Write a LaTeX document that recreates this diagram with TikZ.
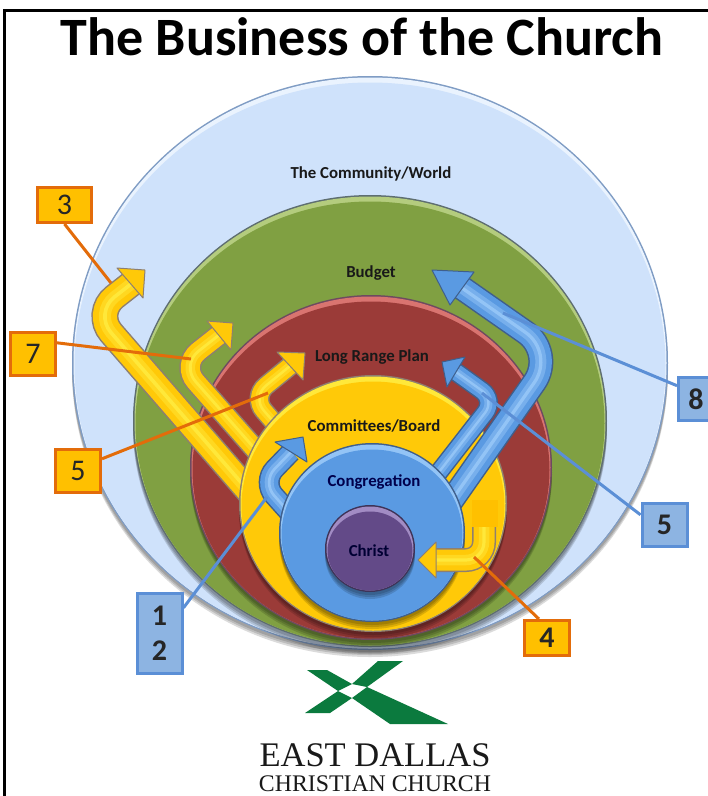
\documentclass[tikz,border=0pt]{standalone}
\usepackage{fontspec}
\setmainfont{Carlito}
\newfontfamily\logofont{Liberation Serif}
\usepackage{tikz}
\usetikzlibrary{positioning}
\definecolor{skyfill}{HTML}{CFE2FB}
\definecolor{skylight}{HTML}{EAF3FE}
\definecolor{skyedge}{HTML}{7F9CC4}
\definecolor{greenfill}{HTML}{80A042}
\definecolor{greenlight}{HTML}{B4CC7E}
\definecolor{greenedge}{HTML}{5E6E70}
\definecolor{redfill}{HTML}{9B3B38}
\definecolor{redlight}{HTML}{D97470}
\definecolor{rededge}{HTML}{6E4A60}
\definecolor{yellowfill}{HTML}{FFC908}
\definecolor{yellowlight}{HTML}{FFE83A}
\definecolor{yellowedge}{HTML}{8E7F70}
\definecolor{bluefill}{HTML}{5A9AE2}
\definecolor{bluelight}{HTML}{93C4F6}
\definecolor{blueedge}{HTML}{3F5F8C}
\definecolor{purplefill}{HTML}{634A88}
\definecolor{purplelight}{HTML}{A28CC4}
\definecolor{purpleedge}{HTML}{3E3358}
\definecolor{boxorange}{HTML}{E36C0A}
\definecolor{boxyellow}{HTML}{FFC000}
\definecolor{boxblue}{HTML}{8DB4E2}
\definecolor{lineblue}{HTML}{5B8FD6}
\definecolor{logogreen}{HTML}{0B7A3E}
\tikzset{yellowbox/.style = {draw=boxorange, fill=boxyellow, line width=3pt, text=black!85,
                             font=\fontsize{30}{35}\selectfont, align=center, inner sep=0,
                             minimum width=45pt, minimum height=43pt}}
\tikzset{bluebox/.style = {yellowbox, draw=lineblue, fill=boxblue, font=\fontsize{30}{35}\selectfont\bfseries}}
\tikzset{orangeline/.style = {draw=boxorange, line width=3pt}}
\tikzset{blueline/.style = {draw=lineblue, line width=3pt}}
\tikzset{disclabel/.style = {font=\fontsize{16.8}{20}\selectfont\bfseries, text=black!90, inner sep=0}}
\newcommand{\disc}[5]{%
  \foreach \s in {7,5,3} {
    \fill [black, opacity=0.14] (#1, #2+\s) circle [x radius=#3, y radius=#4];
  }
  \fill [#5edge] (#1, #2) circle [x radius=#3, y radius=#4];
  \fill [#5light] (#1, #2) circle [x radius=#3-1.5, y radius=#4-1.5];
  \fill [#5fill] (#1, #2+2.5) circle [x radius=#3-2.5, y radius=#4-4];
}
\newcommand{\bentarrow}[4]{%
  \draw [#1edge, line width=#2pt+3pt] #3;
  \draw [#1fill, line width=#2pt] #3;
  \draw [#1fill!50!#1light, line width=0.5*#2pt] #3;
  \draw [#1light, line width=0.15*#2pt] #3;
  \filldraw [draw=#1edge, fill=#1fill, line width=1pt, line join=round] #4 -- cycle;
}

\begin{document}
\begin{tikzpicture}[x=1pt, y=-1pt]
  \useasboundingbox (0, 0) rectangle (708, 796);
  \fill [white] (0, 0) rectangle (708, 796);
  \draw [black, line width=3pt] (4.5, 796) -- (4.5, 10) -- (708, 10);

  \node [font=\fontsize{54}{64}\selectfont\bfseries] (title) at (362, 37) {The Business of the Church};

  \disc{370}{363}{298}{287}{sky}
  \disc{370}{421}{237}{226}{green}
  \disc{371}{467.5}{181}{172.5}{red}

  % arrows behind the committees
  \bentarrow{yellow}{24}{(252, 495) [rounded corners=26pt] -- (94, 313) -- (131, 284)}{(145, 270) -- (117, 268) -- (143, 298)}
  \bentarrow{yellow}{19}{(270, 466) [rounded corners=22pt] -- (181, 365) -- (219, 335)}{(233, 323) -- (207, 321) -- (231, 350)}
  \bentarrow{yellow}{17}{(285, 435) [rounded corners=18pt] -- (252, 397) -- (290, 366)}{(305, 353) -- (277, 352) -- (303, 380)}

  \disc{373}{503.5}{134}{128.5}{yellow}

  % arrows out of the congregation
  \bentarrow{blue}{18}{(305, 530) [rounded corners=18pt] -- (262, 482) -- (291, 452)}{(303, 437) -- (275, 442) -- (307, 462)}
  \bentarrow{blue}{16}{(425, 490) [rounded corners=16pt] -- (495, 400) -- (456, 372)}{(442, 362) -- (465, 357) -- (447, 387)}
  \bentarrow{blue}{22}{(440, 517) [rounded corners=36pt] -- (555, 353) -- (462, 288)}{(432, 270) -- (474, 272) -- (450, 305)}

  \disc{372}{532.5}{93}{89.5}{blue}
  \disc{370}{548.5}{45}{43.5}{purple}

  \bentarrow{yellow}{21}{(484, 527) [rounded corners=18pt] -- (484, 560) -- (436, 560)}{(418, 560) -- (436, 542) -- (436, 578)}
  \fill [boxyellow] (472, 500) rectangle (498, 527);

  \node [disclabel] (world) at (371, 173.5) {The Community/World};
  \node [disclabel] (budget) at (371, 273.5) {Budget};
  \node [disclabel] (plan) at (372, 357.5) {Long Range Plan};
  \node [disclabel] (board) at (374, 426) {Committees/Board};
  \node [disclabel, text=blue!30!black] (congregation) at (374, 482.5) {Congregation};
  \node [disclabel, text=blue!20!black] (christ) at (369, 551) {Christ};

  \node [yellowbox, minimum width=54pt, minimum height=35pt] (boxThree) at (64.5, 205) {3};
  \node [yellowbox] (boxSeven) at (33, 354) {7};
  \node [yellowbox] (boxFiveLeft) at (78, 471) {5};
  \node [bluebox, minimum height=80pt] (boxOneTwo) at (159.5, 633.5) {1\\2};
  \node [yellowbox, minimum height=35pt, font=\fontsize{30}{35}\selectfont\bfseries] (boxFour) at (547, 638) {4};
  \node [bluebox, minimum width=35pt] (boxEight) at (696, 399) {8};
  \node [bluebox] (boxFiveRight) at (664.5, 525) {5};

  \coordinate (endThree) at (111, 283);
  \coordinate (endSeven) at (191, 359);
  \coordinate (endFiveLeft) at (268, 393);
  \coordinate (endOneTwo) at (267, 497);
  \coordinate (endFour) at (474, 557);
  \coordinate (endEight) at (503, 313);
  \coordinate (endFiveRight) at (482, 393);

  \draw [orangeline] (boxThree.south) -- (endThree);
  \draw [orangeline] (boxSeven.25) -- (endSeven);
  \draw [orangeline] (boxFiveLeft.27) -- (endFiveLeft);
  \draw [blueline] (boxOneTwo.47) -- (endOneTwo);
  \draw [orangeline] (boxFour.113) -- (endFour);
  \draw [blueline] (boxEight.145) -- (endEight);
  \draw [blueline] (boxFiveRight.157) -- (endFiveRight);

  % logo
  \fill [logogreen] (403, 661) -- (378, 661) -- (352, 684) -- (367, 687) -- cycle;
  \fill [logogreen] (307, 670) -- (327, 670) -- (352, 684) -- (338, 691) -- cycle;
  \fill [logogreen] (305, 713) -- (330, 713) -- (352, 698) -- (338, 691) -- cycle;
  \fill [logogreen] (448, 724) -- (390, 724) -- (352, 698) -- (367, 687) -- cycle;

  \node [font=\logofont\fontsize{34.5}{36}\selectfont, text=black!90, inner sep=0] (east) at (375, 755) {EAST DALLAS};
  \node [font=\logofont\fontsize{23.8}{26}\selectfont, text=black!90, inner sep=0] (christian) at (375, 784) {CHRISTIAN CHURCH};
\end{tikzpicture}
\end{document}
